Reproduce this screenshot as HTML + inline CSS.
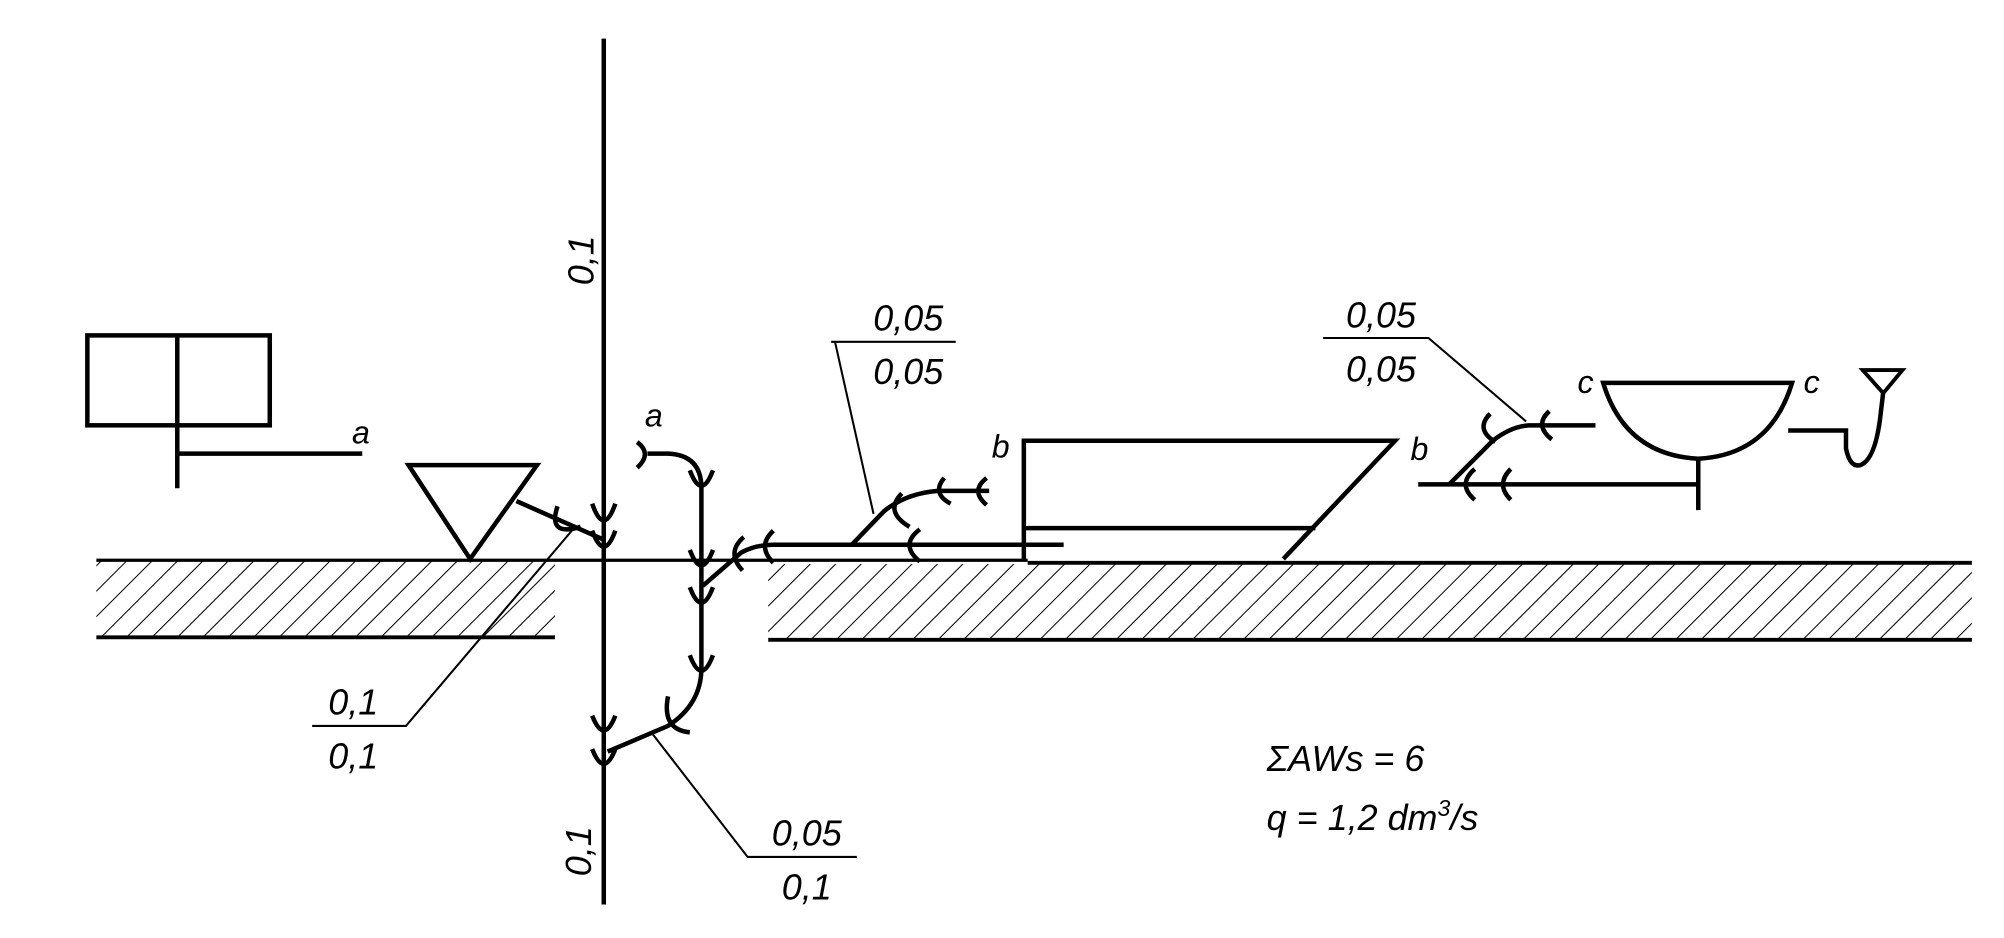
<!DOCTYPE html>
<html><head><style>html,body{margin:0;padding:0;background:#fff}svg{display:block}</style></head>
<body>
<svg width="2004" height="938" viewBox="0 0 1560 730" xmlns="http://www.w3.org/2000/svg">
<defs>
<pattern id="h" patternUnits="userSpaceOnUse" width="14" height="14" patternTransform="rotate(45)">
<line x1="0" y1="0" x2="0" y2="14" stroke="#000" stroke-width="1.6"/>
</pattern>
</defs>
<g fill="none" stroke="#000" stroke-linecap="butt">
<rect x="75" y="436" width="357" height="60" fill="url(#h)" stroke="none"/>
<rect x="598" y="439" width="937" height="59" fill="url(#h)" stroke="none"/>
<line x1="75" y1="436" x2="800" y2="436" stroke-width="2.5"/>
<line x1="800" y1="438" x2="1535" y2="438" stroke-width="3"/>
<line x1="75" y1="496" x2="432" y2="496" stroke-width="3"/>
<line x1="598" y1="498" x2="1535" y2="498" stroke-width="3"/>
<line x1="470" y1="30" x2="470" y2="704" stroke-width="3.5"/>
<rect x="68" y="261" width="142" height="70" stroke-width="3.5"/>
<line x1="138" y1="261" x2="138" y2="380" stroke-width="3.5"/>
<line x1="138" y1="353" x2="282" y2="353" stroke-width="3.5"/>
<polygon points="318,362 418,362 366,435" stroke-width="3.5"/>
<line x1="402" y1="390" x2="470" y2="420" stroke-width="3.5"/>
<path d="M504 353 L520 353 Q546 354 546 380 L546 520 Q546 548 520 565 L473 585" stroke-width="3.5"/>
<path d="M496 344 Q508 353 496 364" stroke-width="3.5"/>
<path d="M547 456 L577 430 Q588 424 602 424 L828 424" stroke-width="3.5"/>
<path d="M663 424 L688 398 Q705 384 730 382 L770 382" stroke-width="3.5"/>
<path d="M797 435 L797 343 L1086 343 L999 435" stroke-width="3.5"/>
<line x1="797" y1="411" x2="1024" y2="411" stroke-width="3.5"/>
<path d="M1248 298 L1395 298 Q1378 354 1322 357 Q1265 354 1248 298 Z" stroke-width="3.5"/>
<line x1="1322" y1="357" x2="1322" y2="397" stroke-width="3.5"/>
<line x1="1104" y1="377" x2="1322" y2="377" stroke-width="3.5"/>
<path d="M1128 377 L1162 343 Q1176 332 1190 331 L1242 331" stroke-width="3.5"/>
<path d="M1392 335 L1437 335 L1437 349 Q1440 364 1448 362 Q1460 358 1464 322 L1466 305" stroke-width="3.5"/>
<polygon points="1450,288 1481,288 1466,306" stroke-width="3"/>
<g stroke-width="3.5">
<path d="M461 392 Q470 418 479 392"/>
<path d="M461 413 Q470 438 479 413"/>
<path d="M461 557 Q470 580 479 557"/>
<path d="M461 583 Q470 606 479 583"/>
<path d="M537 366 Q546 390 555 366"/>
<path d="M537 428 Q546 452 555 428"/>
<path d="M537 457 Q546 481 555 457"/>
<path d="M537 510 Q546 534 555 510"/>
<path d="M520 542 Q515 568 537 570"/>
<path d="M434 394 Q426 418 452 410"/>
<path d="M579 418 Q565 430 578 444"/>
<path d="M602 413 Q589 425 602 438"/>
<path d="M716 412 Q700 424 716 437"/>
<path d="M702 384 Q688 398 708 410"/>
<path d="M735 372 Q725 384 740 392"/>
<path d="M768 372 Q755 382 768 393"/>
<path d="M1160 322 Q1148 334 1164 344"/>
<path d="M1206 320 Q1194 331 1208 342"/>
<path d="M1148 365 Q1134 377 1148 389"/>
<path d="M1176 365 Q1164 377 1176 389"/>
</g>
<g stroke-width="1.6">
<path d="M647 266 L744 266 M650 266 L680 400"/>
<path d="M1030 263 L1112 263 L1188 328"/>
<path d="M243 565 L316 565 L446 412"/>
<path d="M507 570 L582 667 L667 667"/>
</g>
</g>
<g font-family="'Liberation Sans',sans-serif" font-style="italic" fill="#000">
<text x="274" y="345" font-size="25">a</text>
<text x="502" y="332" font-size="25">a</text>
<text x="772" y="356" font-size="25">b</text>
<text x="1098" y="358" font-size="25">b</text>
<text x="1228" y="306" font-size="25">c</text>
<text x="1404" y="306" font-size="25">c</text>
<g font-size="28" text-anchor="middle">
<text x="707" y="257">0,05</text><text x="707" y="299">0,05</text>
<text x="1075" y="255">0,05</text><text x="1075" y="297">0,05</text>
<text x="275" y="556">0,1</text><text x="275" y="598">0,1</text>
<text x="628" y="658">0,05</text><text x="628" y="700">0,1</text>
</g>
<text font-size="28" transform="translate(462,222) rotate(-90)">0,1</text>
<text font-size="28" transform="translate(460,682) rotate(-90)">0,1</text>
<text x="986" y="600" font-size="28">ΣAWs = 6</text>
<text x="986" y="646" font-size="28">q = 1,2 dm<tspan font-size="18" dy="-11">3</tspan><tspan dy="11">/s</tspan></text>
</g>
</svg>
</body></html>
